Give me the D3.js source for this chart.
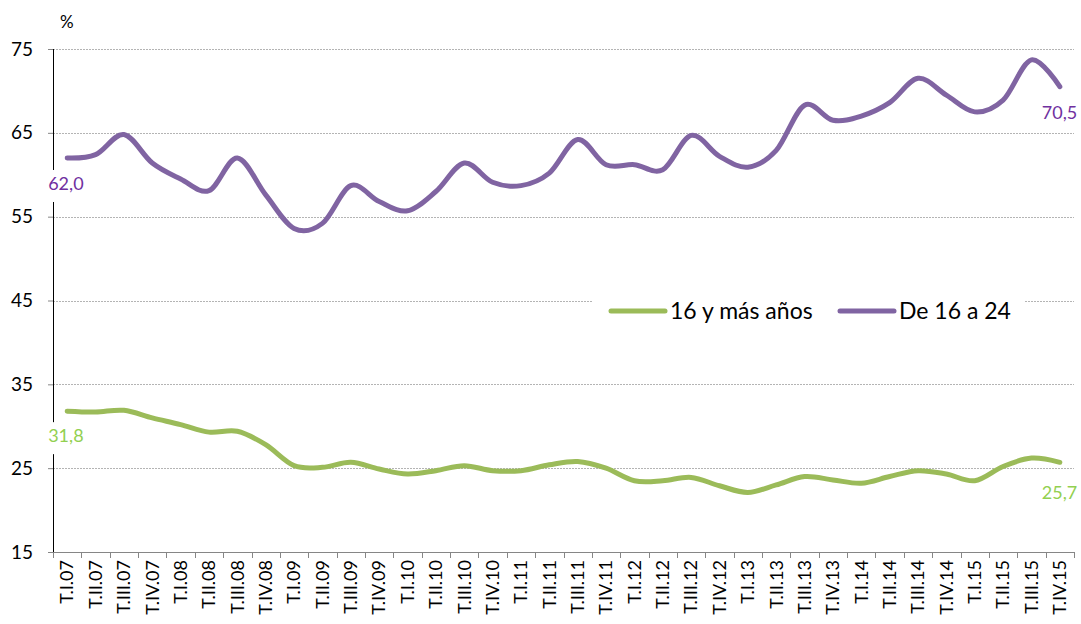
<!DOCTYPE html>
<html>
<head>
<meta charset="utf-8">
<script src="https://cdn.jsdelivr.net/npm/d3@7"></script>
<style>
  body { margin: 0; background: #fff; }
  svg { font-family: Lato, "Open Sans", sans-serif; }
</style>
</head>
<body>
<div id="chart"></div>
<script>
// quarters, T.I.07 .. T.IV.15
var quarters = ['T.I.07','T.II.07','T.III.07','T.IV.07',
  'T.I.08','T.II.08','T.III.08','T.IV.08',
  'T.I.09','T.II.09','T.III.09','T.IV.09',
  'T.I.10','T.II.10','T.III.10','T.IV.10',
  'T.I.11','T.II.11','T.III.11','T.IV.11',
  'T.I.12','T.II.12','T.III.12','T.IV.12',
  'T.I.13','T.II.13','T.III.13','T.IV.13',
  'T.I.14','T.II.14','T.III.14','T.IV.14',
  'T.I.15','T.II.15','T.III.15','T.IV.15'];

// 16 y más años
var total = [31.8, 31.7, 31.9, 31.0, 30.2, 29.3, 29.4, 27.8,
  25.3, 25.1, 25.7, 24.9, 24.3, 24.7, 25.3, 24.7,
  24.7, 25.4, 25.8, 25.0, 23.5, 23.5, 23.9, 22.9,
  22.1, 23.0, 24.0, 23.6, 23.2, 24.0, 24.7, 24.3,
  23.5, 25.2, 26.2, 25.7];

// De 16 a 24
var young = [62.0, 62.4, 64.8, 61.4, 59.5, 58.1, 62.0, 57.6,
  53.6, 54.2, 58.7, 56.8, 55.7, 58.0, 61.4, 59.1,
  58.7, 60.2, 64.2, 61.2, 61.2, 60.6, 64.7, 62.2,
  60.9, 62.9, 68.3, 66.5, 67.0, 68.6, 71.5, 69.5,
  67.5, 68.9, 73.7, 70.5];

var yTicks = [15, 25, 35, 45, 55, 65, 75];

var W = 1081, H = 624;
var mLeft = 53, mRight = 1074, mTop = 49, mBottom = 552;
var green = '#9bbb59', purple = '#8064a2';

var svg = d3.select('#chart').append('svg')
  .attr('width', W).attr('height', H);

var x = d3.scaleBand().domain(quarters).range([mLeft, mRight]);
var y = d3.scaleLinear().domain([15, 75]).range([mBottom, mTop]);
var bw = x.bandwidth();
function cx(i){ return x(quarters[i]) + bw / 2; }

// gridlines
svg.selectAll('.grid')
  .data(yTicks.slice(1))
  .enter().append('line')
    .attr('class', 'grid')
    .attr('x1', mLeft).attr('x2', mRight)
    .attr('y1', function(d){ return Math.round(y(d)) + 0.5; })
    .attr('y2', function(d){ return Math.round(y(d)) + 0.5; })
    .attr('stroke', '#b4b4b4')
    .attr('stroke-width', 1)
    .attr('stroke-dasharray', '2,1');

// y axis
var yAxis = svg.append('g')
  .attr('transform', 'translate(' + mLeft + ',0)')
  .call(d3.axisLeft(y).tickValues(yTicks).tickSize(5).tickPadding(15));
yAxis.select('.domain').attr('stroke', '#000').attr('d', 'M0.5,' + mTop + 'V' + mBottom);
yAxis.selectAll('.tick line').attr('stroke', '#868686');
yAxis.selectAll('text')
  .attr('font-size', 19)
  .attr('font-family', 'Lato, sans-serif')
  .attr('fill', '#000');

// x axis
var xa = svg.append('g');
xa.append('line')
  .attr('x1', mLeft).attr('x2', mRight)
  .attr('y1', mBottom + 0.5).attr('y2', mBottom + 0.5)
  .attr('stroke', '#868686');
xa.selectAll('.xtick')
  .data(quarters.concat(['end']))
  .enter().append('line')
    .attr('class', 'xtick')
    .attr('x1', function(d, i){ return Math.round(mLeft + i * bw) + 0.5; })
    .attr('x2', function(d, i){ return Math.round(mLeft + i * bw) + 0.5; })
    .attr('y1', mBottom).attr('y2', mBottom + 6)
    .attr('stroke', '#868686');
xa.selectAll('.xlabel')
  .data(quarters)
  .enter().append('text')
    .attr('class', 'xlabel')
    .attr('transform', function(d, i){ return 'translate(' + cx(i) + ',' + (mBottom + 8) + ') rotate(-90)'; })
    .attr('text-anchor', 'end')
    .attr('dy', '0.35em')
    .attr('font-size', 18)
    .attr('fill', '#000')
    .text(function(d){ return d; });

svg.append('text')
  .attr('x', 60).attr('y', 28)
  .attr('font-size', 17)
  .text('%');

// lines
var line = d3.line()
  .x(function(d, i){ return cx(i); })
  .y(function(d){ return y(d); })
  .curve(d3.curveCardinal.tension(0));

[[total, green], [young, purple]].forEach(function(s){
  svg.append('path')
    .datum(s[0])
    .attr('d', line)
    .attr('fill', 'none')
    .attr('stroke', s[1])
    .attr('stroke-width', 5)
    .attr('stroke-linecap', 'round')
    .attr('stroke-linejoin', 'round');
});

// data labels at ends
var labels = [
  { v: young[0], i: 0, dy: 32, col: '#7030a0', dx: -19 },
  { v: young[35], i: 35, dy: 32, col: '#7030a0', dx: -18 },
  { v: total[0], i: 0, dy: 31, col: '#92d050', dx: -19 },
  { v: total[35], i: 35, dy: 37, col: '#92d050', dx: -18 }
];
labels.forEach(function(l){
  var txt = d3.format('.1f')(l.v).replace('.', ',');
  var lx = cx(l.i) + l.dx, ly = y(l.v) + l.dy;
  svg.append('rect')
    .attr('x', lx - 4).attr('y', ly - 20)
    .attr('width', 46).attr('height', 32)
    .attr('fill', '#fff');
  svg.append('text')
    .attr('x', lx).attr('y', ly)
    .attr('font-size', 18)
    .attr('fill', l.col)
    .text(txt);
});

// legend
var lg = svg.append('g');
lg.append('rect')
  .attr('x', 592).attr('y', 295)
  .attr('width', 432).attr('height', 32)
  .attr('fill', '#fff');
var legend = [
  { name: '16 y más años', col: green, x: 611 },
  { name: 'De 16 a 24', col: purple, x: 840 }
];
legend.forEach(function(d){
  lg.append('line')
    .attr('x1', d.x).attr('x2', d.x + 54)
    .attr('y1', 311).attr('y2', 311)
    .attr('stroke', d.col).attr('stroke-width', 5)
    .attr('stroke-linecap', 'round');
  lg.append('text')
    .attr('x', d.x + 59).attr('y', 319)
    .attr('font-size', 23)
    .text(d.name);
});
</script>
</body>
</html>
